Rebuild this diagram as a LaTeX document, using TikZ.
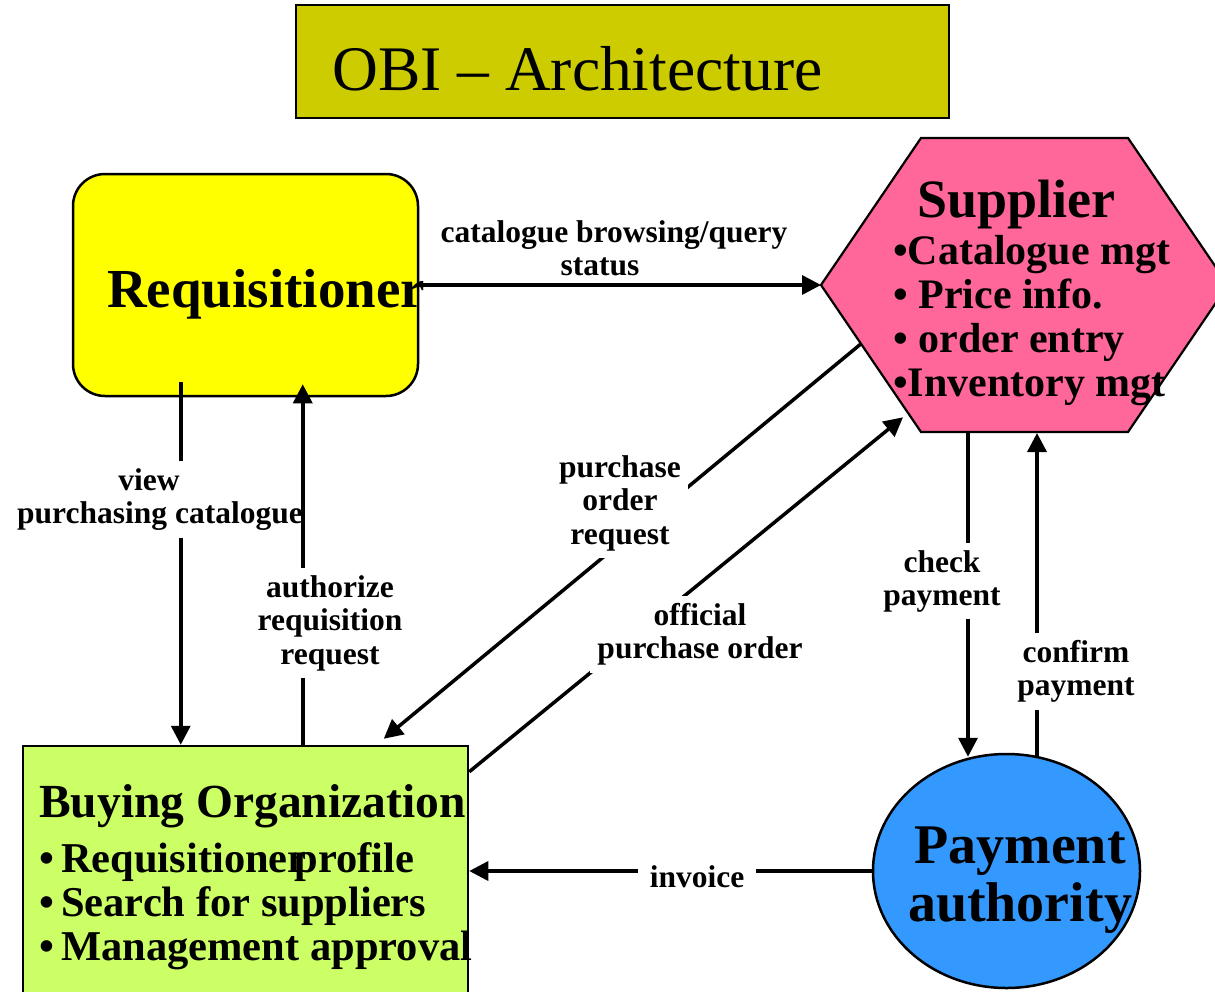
\documentclass[tikz,border=0pt]{standalone}
\usepackage{fontspec}
\setmainfont{Liberation Serif}
\usetikzlibrary{arrows.meta,calc,shapes.geometric}

\definecolor{titlefill}{RGB}{204,204,0}
\definecolor{reqfill}{RGB}{255,255,0}
\definecolor{supfill}{RGB}{255,102,153}
\definecolor{buyfill}{RGB}{204,255,102}
\definecolor{payfill}{RGB}{51,153,255}

\begin{document}
\begin{tikzpicture}[x=1pt,y=-1pt,
  flow/.style={line width=3.5pt,-{Triangle[length=19pt,width=19pt]}},
  firstline/.style={execute at begin node=\rule{0pt}{#1}},
  lbl/.style={fill=white,inner xsep=7pt,inner ysep=7pt,align=center,anchor=north,
    font=\bfseries\fontsize{31.5}{33.5}\selectfont,firstline=27pt},
  boxline/.style={draw=black,line width=2.5pt,inner sep=0pt},
  bold/.style={inner sep=0pt,font=\bfseries\fontsize{#1}{#1}\selectfont}
]
\useasboundingbox (0,0) rectangle (1215,991);
\clip (0,0) rectangle (1215,991);

% ---- title banner ----
\node[boxline,fill=titlefill,minimum width=653pt,minimum height=113pt] (titlebox) at (622.5,61.5) {};
\node[anchor=base west,inner sep=0pt,font=\fontsize{63.5}{70}\selectfont] (title) at (332,90) {OBI – Architecture};

% ---- parties ----
\node[boxline,fill=reqfill,rounded corners=32pt,minimum width=345pt,minimum height=222pt] (req) at (245.5,285) {};

\coordinate (hL)  at (821,285);
\coordinate (hTL) at (921,138);
\coordinate (hTR) at (1128,138);
\coordinate (hR)  at (1228,285);
\coordinate (hBR) at (1128,432);
\coordinate (hBL) at (921,432);
\draw[line width=2.2pt,fill=supfill] (hL) -- (hTL) -- (hTR) -- (hR) -- (hBR) -- (hBL) -- cycle;

\node[boxline,fill=buyfill,minimum width=445pt,minimum height=264pt] (buy) at (245.5,878) {};
\node[boxline,ellipse,fill=payfill,minimum width=267pt,minimum height=234pt] (pay) at (1006.5,871) {};

% ---- message flows ----
\draw[flow] (req.east) -- (hL);
\node[lbl,fill=none] (lcat) at (614,213) {catalogue browsing/query\\status\hspace*{28pt}};

\coordinate (vTop) at ($(req.south west)+(109,-15)$);
\coordinate (vBot) at ($(buy.north west)+(159,0)$);
\draw[flow] (vTop) -- (vBot);
\node[lbl] (lview) at (160,461) {view\hspace*{22pt}\\purchasing catalogue};

\coordinate (aBot) at ($(buy.north west)+(281,0)$);
\coordinate (aTop) at ($(req.south west)+(231,-13)$);
\draw[flow] (aBot) -- (aTop);
\node[lbl] (lauth) at (330,568) {authorize\\requisition\\request};

\coordinate (poS) at ($(hL)!0.4!(hBL)$);
\coordinate (poT) at ($(buy.north west)+(362,-6)$);
\draw[flow] (poS) -- (poT);
\node[lbl] (lpo) at (620,448) {purchase\\order\\request};

\coordinate (opS) at ($(buy.north east)+(0,27)$);
\coordinate (opT) at ($(hL)!0.9!(hBL)+(-8,0)$);
\draw[flow] (opS) -- (opT);
\node[lbl] (lop) at (700,596) {official\\purchase order};

\coordinate (cS) at ($(hBL)+(47,0)$);
\coordinate (cT) at ($(pay.north)+(-38.5,4)$);
\draw[flow] (cS) -- (cT);
\node[lbl] (lcheck) at (942,543) {check\\payment};

\coordinate (fS) at ($(pay.north)+(30.5,3)$);
\coordinate (fT) at ($(hBL)+(116,1)$);
\draw[flow] (fS) -- (fT);
\node[lbl] (lconf) at (1076,633) {confirm\\payment};

\draw[flow] (pay.west) -- (pay.west -| buy.east);
\node[lbl,inner xsep=12pt] (linv) at (697,853) {invoice};

% ---- texts inside the parties ----
\node[bold=55,anchor=base west] (reqtext) at (107,307) {Requisitioner};

\node[bold=54,anchor=base west] (suptitle) at (917,217) {Supplier};
\node[inner sep=0pt,anchor=north west,align=left,firstline=32pt,
      font=\bfseries\fontsize{42}{44}\selectfont] (supitems) at (893,235)
  {•Catalogue mgt\\• Price info.\\• order entry\\•Inventory mgt};

\node[bold=47.5,anchor=base west] (buytitle) at (39,817) {Buying Organization};
\node[inner sep=0pt,anchor=north west,align=left,firstline=32pt,
      font=\bfseries\fontsize{42.5}{44}\selectfont] (buyitems) at (39,842)
  {•\,Requisitioner\kern-12pt profile\\•\,Search for suppliers\\•\,Management approval};

\node[inner sep=0pt,anchor=north,align=center,firstline=40pt,
      font=\bfseries\fontsize{56}{58}\selectfont] (paytext) at (1020,827)
  {Payment\\authority};
\end{tikzpicture}
\end{document}
